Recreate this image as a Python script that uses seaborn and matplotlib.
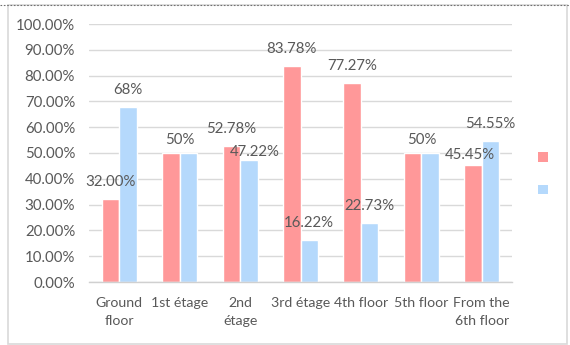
import matplotlib
matplotlib.use("Agg")
import matplotlib.pyplot as plt
import seaborn as sns
import pandas as pd
import numpy as np
from matplotlib.patches import Patch, Rectangle
from matplotlib.lines import Line2D
from matplotlib.ticker import PercentFormatter, FixedLocator

# ---- data ----
categories = ["Ground\nfloor", "1st étage", "2nd\nétage", "3rd étage",
              "4th floor", "5th floor", "From the\n6th floor"]
series_names = ["", ""]          # legend entries have no visible text
red_values = [32.00, 50.0, 52.78, 83.78, 77.27, 50.0, 45.45]
blue_values = [68.0, 50.0, 47.22, 16.22, 22.73, 50.0, 54.55]
red_labels = ["32.00%", "50%", "52.78%", "83.78%", "77.27%", "50%", "45.45%"]
blue_labels = ["68%", "50%", "47.22%", "16.22%", "22.73%", "50%", "54.55%"]
y_ticks = [0, 10, 20, 30, 40, 50, 60, 70, 80, 90, 100]

colors = ["#FF9899", "#B5D9FC"]
text_color = "#595959"
grid_color = "#D9D9D9"

sns.set_theme(style="white")
plt.rcParams["font.family"] = ["Lato", "DejaVu Sans"]

df = pd.DataFrame({
    "category": categories * 2,
    "value": red_values + blue_values,
    "series": ["A"] * len(categories) + ["B"] * len(categories),
})

fig = plt.figure(figsize=(5.7, 3.45), dpi=100)
ax = fig.add_axes([89 / 570, (345 - 282) / 345, (512 - 89) / 570, (282 - 24) / 345])

sns.barplot(data=df, x="category", y="value", hue="series", order=categories,
            hue_order=["A", "B"], palette=colors, width=0.58, gap=0,
            saturation=1, errorbar=None, ax=ax, legend=False, zorder=3)

fs = 10.8
ax.set_ylim(0, 100)
ax.set_xlim(-0.5, len(categories) - 0.5)
ax.yaxis.set_major_locator(FixedLocator(y_ticks))
ax.yaxis.set_major_formatter(PercentFormatter(decimals=2))
ax.grid(axis="y", color=grid_color, linewidth=1, zorder=0)
ax.grid(axis="x", visible=False)
ax.set_axisbelow(True)
ax.set_xlabel("")
ax.set_ylabel("")
for s in ["top", "right", "left"]:
    ax.spines[s].set_visible(False)
ax.spines["bottom"].set_color("#D0D0D0")
ax.spines["bottom"].set_linewidth(1)
ax.spines["bottom"].set_zorder(4)

ax.tick_params(axis="y", length=0, pad=10, labelsize=fs, labelcolor=text_color)
ax.tick_params(axis="x", which="major", length=0, pad=11, labelsize=10.2, labelcolor=text_color)
ax.set_xticks(range(len(categories)))
ax.set_xticklabels(categories, linespacing=1.55)
ax.set_xticks(np.arange(-0.5, len(categories), 1.0), minor=True)
ax.tick_params(axis="x", which="minor", length=5, width=1, color="#D0D0D0", direction="out")

# ---- data labels ----
label_sets = [red_labels, blue_labels]
nudges = {(1, 2): (6, -9), (0, 6): (-3, -7)}   # (series, category): (dx px, dy px)
for si, cont in enumerate(ax.containers):
    for ci, bar in enumerate(cont):
        x = bar.get_x() + bar.get_width() / 2
        top = bar.get_height()
        dx, dy = 0, 17
        if red_values[ci] == blue_values[ci]:
            if si > 0:
                continue  # equal labels overlap into one
            x = ci
            dy = 13
        if (si, ci) in nudges:
            ndx, ndy = nudges[(si, ci)]
            dx += ndx
            dy += ndy
        ax.annotate(label_sets[si][ci], (x, top), xytext=(dx, dy),
                    textcoords="offset pixels", ha="center", va="center",
                    fontsize=fs, color=text_color, zorder=5)

# ---- legend (markers only) ----
handles = [Patch(facecolor=c, edgecolor="none") for c in colors]
fig.legend(handles, series_names, loc="center", bbox_to_anchor=(543 / 570, 1 - 174 / 345),
           frameon=False, handlelength=0.65, handleheight=0.65, labelspacing=1.45,
           handletextpad=0, borderpad=0, fontsize=10)

# ---- chart area border ----
fig.patches.append(Rectangle((8 / 570, 1 / 345), 559 / 570, 339 / 345, transform=fig.transFigure,
                             fill=False, edgecolor="#D9D9D9", linewidth=1.2))
fig.lines.append(Line2D([0, 1], [1 - 5 / 345, 1 - 5 / 345], transform=fig.transFigure,
                        color="#707070", linewidth=0.8, linestyle=(0, (1.5, 1.5))))

fig.savefig("out.png", dpi=100)
